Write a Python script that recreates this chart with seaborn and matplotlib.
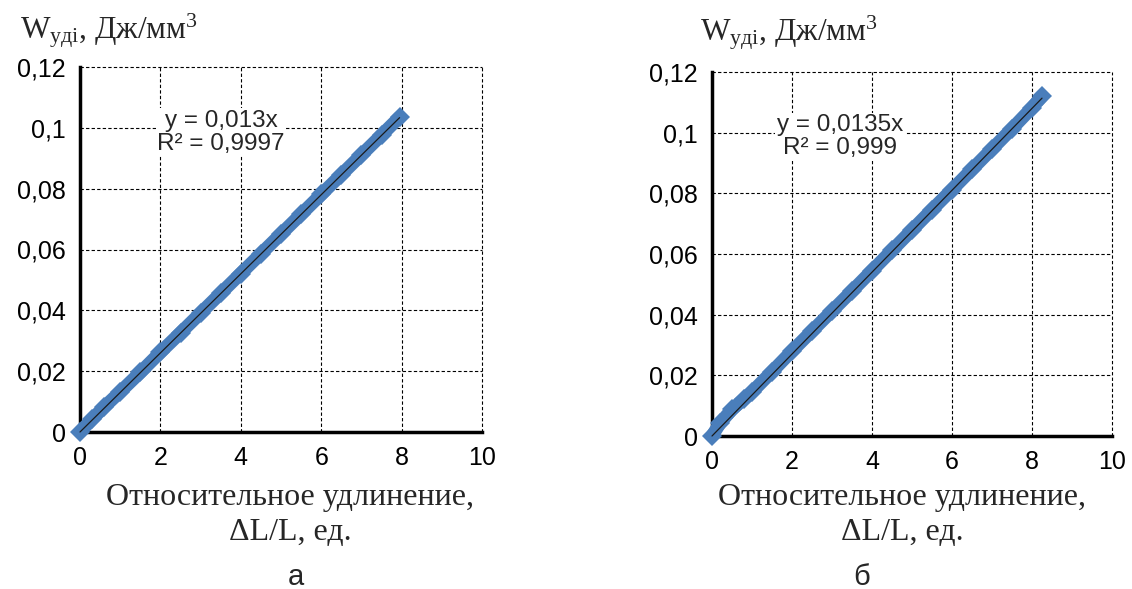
import matplotlib
matplotlib.use("Agg")
import matplotlib.pyplot as plt
import seaborn as sns
import numpy as np
from matplotlib.ticker import FuncFormatter

sns.set_style("white")
plt.rcParams['font.family'] = ['Liberation Sans', 'DejaVu Sans']
plt.rcParams['mathtext.fontset'] = 'custom'
plt.rcParams['mathtext.rm'] = 'Liberation Serif'
plt.rcParams['mathtext.it'] = 'Liberation Serif:italic'

# panel а: measured points (relative elongation, specific energy)
strain_a = [0, 0.3, 0.6, 1.0, 1.5, 2.0, 2.5, 3.0, 3.5, 4.0, 4.5, 5.0, 5.5, 6.0, 6.5, 7.0, 7.5, 7.95]
energy_a = [0, 0.0042, 0.0082, 0.0132, 0.0196, 0.0262, 0.0326, 0.0391, 0.0456, 0.0521,
            0.0586, 0.0651, 0.0716, 0.0781, 0.0846, 0.0911, 0.0976, 0.1035]
slope_a = 0.013
r2_a = "0,9997"

# panel б
strain_b = [0, 0.2, 0.5, 0.8, 1.0, 1.5, 2.0, 2.5, 3.0, 3.5, 4.0, 4.5, 5.0, 5.5, 6.0, 6.5, 7.0, 7.5, 8.0, 8.25]
energy_b = [0, 0.0042, 0.0088, 0.0122, 0.0145, 0.0212, 0.0280, 0.0346, 0.0412, 0.0478,
            0.0545, 0.0612, 0.0679, 0.0746, 0.0812, 0.0879, 0.0946, 0.1013, 0.1082, 0.1120]
slope_b = 0.0135
r2_b = "0,999"

x_ticks = [0, 2, 4, 6, 8, 10]
y_ticks = [0, 0.02, 0.04, 0.06, 0.08, 0.1, 0.12]

blue = '#4A7EBB'
W, H = 1132, 589


def comma_fmt(v, pos=None):
    return f"{round(v, 4):g}".replace('.', ',')


fig = plt.figure(figsize=(W / 100, H / 100), dpi=100)
ax_a = fig.add_axes([80 / W, 1 - 432 / H, 402 / W, 365 / H])
ax_b = fig.add_axes([712 / W, 1 - 436 / H, 400 / W, 364 / H])

# ax, x, y, slope, slope text, R2, annotation pos, ytitle px, xlabel center px, letter px
panels = [
    (ax_a, strain_a, energy_a, slope_a, "0,013", r2_a, (3.51, 0.0986), (20, 38), (290, 497), "а", (296, 585)),
    (ax_b, strain_b, energy_b, slope_b, "0,0135", r2_b, (3.2, 0.0986), (700, 41), (902, 498), "б", (862, 585)),
]

for ax, xs, ys, k, k_txt, r2, txt_pos, ttl, xl, letter, lt in panels:
    sns.lineplot(x=xs, y=ys, ax=ax, color=blue, linewidth=9.5, marker='D',
                 markersize=10, markeredgewidth=0, clip_on=False, zorder=3,
                 sort=False)
    trend_x = [0, max(xs)]
    trend_y = [k * v for v in trend_x]
    sns.lineplot(x=trend_x, y=trend_y, ax=ax, color='#1a1a1a', linewidth=0.9,
                 zorder=4, clip_on=False)

    ax.set_xlim(0, 10)
    ax.set_ylim(0, 0.12)
    ax.set_xticks(x_ticks)
    ax.set_yticks(y_ticks)
    ax.yaxis.set_major_formatter(FuncFormatter(comma_fmt))
    ax.xaxis.set_major_formatter(FuncFormatter(comma_fmt))

    ax.grid(True, linestyle=(0, (3, 2)), color='black', linewidth=0.8)
    for gl in ax.get_xgridlines() + ax.get_ygridlines():
        gl.set_clip_on(False)
    for side in ['top', 'right']:
        ax.spines[side].set_visible(False)
    for side in ['left', 'bottom']:
        ax.spines[side].set_linewidth(2.5)
        ax.spines[side].set_color('black')
    ax.tick_params(axis='both', direction='out', length=5, width=2.5,
                   labelsize=18, pad=5, colors='black')

    ax.text(txt_pos[0], txt_pos[1], f"y = {k_txt}x\nR² = {r2}", ha='center',
            va='center', fontsize=17.5, linespacing=1.05, zorder=5,
            bbox=dict(facecolor='white', edgecolor='none', pad=1))

    # y-axis title sits above the axes, left aligned
    fig.text(ttl[0] / W, 1 - ttl[1] / H, r"W$_{\mathrm{уді}}$, Дж/мм$^{\mathrm{3}}$",
             fontfamily='Liberation Serif', fontsize=22.5, ha='left', va='baseline')

    fig.text(xl[0] / W, 1 - xl[1] / H, "Относительное удлинение,", fontfamily='Liberation Serif',
             fontsize=23, ha='center', va='center')
    fig.text(xl[0] / W, 1 - (xl[1] + 35) / H, "ΔL/L, ед.", fontfamily='Liberation Serif',
             fontsize=23, ha='center', va='center')

    fig.text(lt[0] / W, 1 - lt[1] / H, letter, fontsize=21, ha='center', va='baseline')

fig.savefig("out.png", dpi=100)
